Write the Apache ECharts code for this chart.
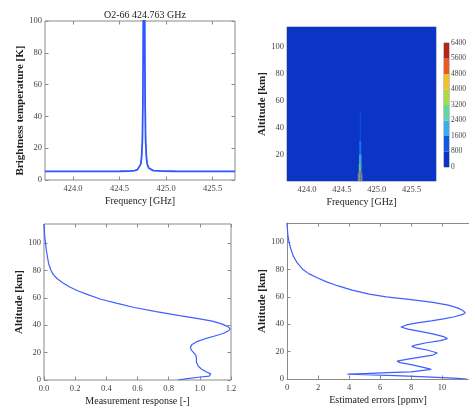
<!DOCTYPE html>
<html><head><meta charset="utf-8">
<script src="https://cdn.jsdelivr.net/npm/echarts@6/dist/echarts.min.js"></script>
<style>html,body{margin:0;padding:0;background:#fff;overflow:hidden}#c{width:469px;height:407px}</style>
</head><body><div id="c"></div><script>
// ---------- data ----------
const titleText = 'O2-66 424.763 GHz';
const freqTicks = [424.0, 424.5, 425.0, 425.5];
const tbTicks = [0, 20, 40, 60, 80, 100];
const altTicks = [0, 20, 40, 60, 80, 100];
const altTicksHeat = [20, 40, 60, 80, 100];
const respTicks = [0, 0.2, 0.4, 0.6, 0.8, 1.0, 1.2];
const errTicks = [0, 2, 4, 6, 8, 10];
const cbLevels = [0, 800, 1600, 2400, 3200, 4000, 4800, 5600, 6400];
const cbColors = ['#0b35c7', '#1058e6', '#38aef0', '#60d8a6', '#abd940', '#f5c027', '#ec5a22', '#b3261a'];

// spectrum (frequency GHz, brightness temperature K)
const spectrumFreq = [423.70, 424.00, 424.30, 424.50, 424.60, 424.663, 424.693, 424.713, 424.728, 424.738, 424.746, 424.751, 424.755, 424.758, 424.763,
  424.768, 424.771, 424.775, 424.780, 424.788, 424.798, 424.813, 424.833, 424.863, 424.963, 425.10, 425.30, 425.50, 425.74];
const spectrumTb = [5.4, 5.4, 5.45, 5.5, 5.6, 5.9, 6.5, 7.6, 10, 15, 26, 47, 100, 240, 320,
  240, 100, 47, 26, 15, 10, 7.6, 6.5, 5.9, 5.6, 5.5, 5.45, 5.4, 5.4];

// contour field (frequency column edges, altitude row edges, values per row/column)
const heatFreqEdges = [424.721, 424.733, 424.745, 424.757, 424.769, 424.781, 424.793, 424.805];
const heatAltEdges = [0, 2, 4, 6, 8, 10, 13, 16, 20, 25, 30, 40, 52];
const heatValues = [
  [1000, 2200, 4500, 5800, 4500, 2200, 1000],
  [900, 2000, 4600, 6300, 4600, 2000, 900],
  [800, 1700, 4200, 6000, 4200, 1700, 800],
  [400, 1300, 3600, 5400, 3600, 1300, 400],
  [0, 1000, 3000, 4600, 3000, 1000, 0],
  [0, 850, 2500, 3900, 2500, 850, 0],
  [0, 0, 2000, 3300, 2000, 0, 0],
  [0, 0, 1600, 2700, 1600, 0, 0],
  [0, 0, 1200, 2200, 1200, 0, 0],
  [0, 0, 900, 1800, 900, 0, 0],
  [0, 0, 0, 1400, 0, 0, 0],
  [0, 0, 0, 900, 0, 0, 0]
];

// measurement response vs altitude
const respAlt = [114, 110, 105, 100, 95, 90, 85, 80, 77, 74, 71, 68, 65, 62, 59, 56, 53, 50, 47, 45, 43, 41, 39, 37.5, 36, 34, 32, 30, 28, 26, 24, 22, 20, 18, 16, 13, 10, 8, 6, 4.5, 3.5, 2.8, 2, 1, 0];
const respVal = [0, 0.002, 0.005, 0.01, 0.015, 0.022, 0.03, 0.045, 0.06, 0.085, 0.12, 0.165, 0.22, 0.29, 0.365, 0.47, 0.58, 0.72, 0.87, 0.98, 1.08, 1.14, 1.18, 1.195, 1.185, 1.15, 1.09, 1.03, 0.98, 0.95, 0.94, 0.945, 0.96, 0.975, 0.978, 0.978, 0.99, 1.01, 1.04, 1.07, 1.075, 1.06, 0.99, 0.92, 0.86];

// estimated errors vs altitude
const errAlt = [114, 110, 105, 100, 95, 90, 85, 80, 77, 74, 71, 68, 65, 62, 60, 58, 56, 54, 52, 50, 48.5, 47, 45.5, 44, 42.5, 41, 39.5, 38, 36.5, 35, 33, 31, 29.5, 28, 26.5, 25, 23.8, 22.5, 21, 19, 17.5, 16, 14.5, 13, 12, 10.5, 8.5, 7, 6, 5.2, 4.6, 4, 3.5, 3.1, 2.5, 1.8, 1, 0.4, 0];
const errVal = [0, 0.02, 0.06, 0.13, 0.25, 0.4, 0.65, 1.03, 1.4, 1.95, 2.55, 3.3, 4.2, 5.3, 6.4, 8.0, 9.4, 10.4, 11.0, 11.35, 11.5, 11.3, 10.8, 10.1, 9.3, 8.4, 7.7, 7.35, 7.8, 8.5, 9.4, 10.1, 10.35, 9.9, 9.0, 8.35, 8.05, 8.4, 9.1, 9.7, 9.4, 8.6, 7.8, 7.1, 7.3, 8.0, 8.8, 9.3, 9.2, 8.0, 6.5, 5.0, 3.9, 5.0, 7.0, 8.6, 10.0, 11.0, 11.6];

// ---------- build ----------
const font = 'Liberation Serif';
const frameColor = '#8a8a8a';
const tick = (vals) => ({show: true, inside: true, length: 3.5, customValues: vals, lineStyle: {color: frameColor, width: 1}});
const nameStyleX = {fontFamily: font, fontSize: 10, color: '#222'};
const nameStyleY = {fontFamily: font, fontSize: 11, fontWeight: 'bold', color: '#222'};
const labelBase = {fontFamily: font, fontSize: 8.5, color: '#444'};
const edgeLine = {show: true, onZero: false, lineStyle: {color: frameColor, width: 1}};
const noLine = {show: false, onZero: false};

function xPair(gi, min, max, ticks, fmt, name, gap, line) {
  return [
    {type: 'value', gridIndex: gi, min, max, position: 'bottom', name, nameLocation: 'middle', nameGap: gap, nameTextStyle: nameStyleX,
      axisLine: line || noLine, splitLine: {show: false}, axisTick: tick(ticks),
      axisLabel: Object.assign({customValues: ticks, formatter: fmt, margin: 4}, labelBase)},
    {type: 'value', gridIndex: gi, min, max, position: 'top', axisLine: line || noLine, splitLine: {show: false},
      axisTick: tick(ticks), axisLabel: {show: false}}
  ];
}
function yPair(gi, min, max, ticks, fmt, name, gap, nameStyle, line, rightTicks) {
  return [
    {type: 'value', gridIndex: gi, min, max, position: 'left', name, nameLocation: 'middle', nameGap: gap, nameTextStyle: nameStyle || nameStyleY,
      axisLine: line || noLine, splitLine: {show: false}, axisTick: tick(ticks),
      axisLabel: Object.assign({customValues: ticks, formatter: fmt, margin: 3}, labelBase)},
    {type: 'value', gridIndex: gi, min, max, position: 'right', axisLine: noLine, splitLine: {show: false},
      axisTick: rightTicks === false ? {show: false} : tick(ticks), axisLabel: {show: false}}
  ];
}
const f1 = v => v.toFixed(1);
const f0 = v => String(Math.round(v));

const frame = {show: true, borderColor: frameColor, borderWidth: 1, backgroundColor: 'transparent'};
const grids = [
  Object.assign({left: 45, top: 21, width: 190, height: 159}, frame),
  Object.assign({left: 287, top: 27, width: 149, height: 154}, frame),
  Object.assign({left: 44, top: 224, width: 187, height: 156}, frame),
  {left: 287, top: 223, width: 182, height: 156, show: false},
  Object.assign({left: 444, top: 43, width: 5, height: 124}, frame)
];

const xAxes = [].concat(
  xPair(0, 423.70, 425.74, freqTicks, f1, 'Frequency [GHz]', 16),
  xPair(1, 423.713, 425.85, freqTicks, f1, 'Frequency [GHz]', 16),
  xPair(2, 0, 1.2, respTicks, f1, 'Measurement response [-]', 16),
  xPair(3, 0, 11.74, errTicks, f0, 'Estimated errors [ppmv]', 16, edgeLine),
  [{type: 'value', gridIndex: 4, min: 0, max: 1, show: false}]
);
const yAxes = [].concat(
  yPair(0, 0, 100, tbTicks, f0, 'Brightness temperature [K]', 17, Object.assign({padding: [0, 20, 0, 0]}, nameStyleY)),
  yPair(1, 0.3, 114.8, altTicksHeat, f0, 'Altitude [km]', 16),
  yPair(2, 0, 114, altTicks, f0, 'Altitude [km]', 16),
  yPair(3, 0, 114, altTicks, f0, 'Altitude [km]', 16, null, edgeLine, false),
  [{type: 'value', gridIndex: 4, min: 0, max: 6400, interval: 800, position: 'right',
    axisLine: {show: false}, splitLine: {show: false}, axisTick: {show: false},
    axisLabel: {fontFamily: font, fontSize: 7.5, color: '#444', margin: 2, formatter: v => String(v)}}]
);

function bandColor(v) {
  let i = Math.floor(v / 800);
  if (i < 0) i = 0; if (i > 7) i = 7;
  return cbColors[i];
}

// heat cells: base field (0) + spike cells
const heatData = [[423.713, 425.85, 0.3, 114.8, 0]];
for (let r = 0; r < heatValues.length; r++) {
  for (let c = 0; c < heatValues[r].length; c++) {
    const v = heatValues[r][c];
    if (v >= 800) heatData.push([heatFreqEdges[c], heatFreqEdges[c + 1], heatAltEdges[r], heatAltEdges[r + 1], v]);
  }
}
const cbData = [];
for (let i = 0; i < cbLevels.length - 1; i++) cbData.push([0, 1, cbLevels[i], cbLevels[i + 1], (cbLevels[i] + cbLevels[i + 1]) / 2]);

function rectItem(params, api) {
  const p0 = api.coord([api.value(0), api.value(3)]);
  const p1 = api.coord([api.value(1), api.value(2)]);
  return {type: 'rect', shape: {x: p0[0], y: p0[1], width: p1[0] - p0[0], height: p1[1] - p0[1]},
    style: {fill: bandColor(api.value(4))}};
}

const lineStyleThin = {color: '#3f5fff', width: 1.2};
const option = {
  animation: false,
  backgroundColor: '#fff',
  title: {text: titleText, left: 140, top: 5, textAlign: 'center',
    textStyle: {fontFamily: font, fontSize: 10, fontWeight: 'normal', color: '#222'}},
  grid: grids,
  xAxis: xAxes,
  yAxis: yAxes,
  series: [
    {type: 'line', xAxisIndex: 0, yAxisIndex: 0, showSymbol: false, symbol: 'none', clip: true,
      lineStyle: {color: '#2f57ff', width: 1.8},
      data: spectrumFreq.map((f, i) => [f, spectrumTb[i]])},
    {type: 'custom', xAxisIndex: 2, yAxisIndex: 2, clip: true, renderItem: rectItem,
      encode: {x: [0, 1], y: [2, 3]}, data: heatData},
    {type: 'line', xAxisIndex: 4, yAxisIndex: 4, showSymbol: false, symbol: 'none', clip: true,
      lineStyle: lineStyleThin,
      data: respAlt.map((a, i) => [respVal[i], a])},
    {type: 'line', xAxisIndex: 6, yAxisIndex: 6, showSymbol: false, symbol: 'none', clip: true,
      lineStyle: lineStyleThin,
      data: errAlt.map((a, i) => [errVal[i], a])},
    {type: 'custom', xAxisIndex: 8, yAxisIndex: 8, renderItem: rectItem,
      encode: {x: [0, 1], y: [2, 3]}, data: cbData}
  ]
};
const chart = echarts.init(document.getElementById('c'), null, {renderer: 'canvas'});
chart.setOption(option);
</script></body></html>
